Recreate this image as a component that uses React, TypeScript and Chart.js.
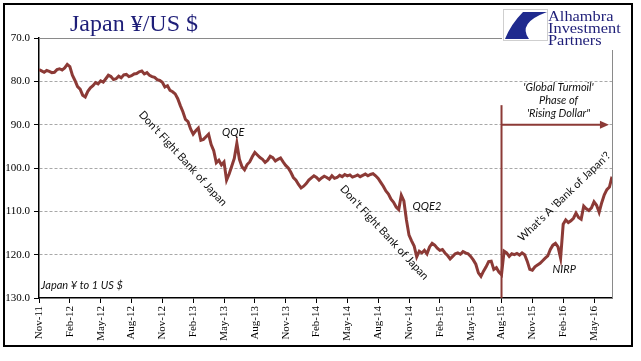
import React, { useEffect, useRef } from "react";
import { Chart, registerables } from "chart.js";

Chart.register(...registerables);

// ---- data ----
const tickLabels = [
  "Nov-11", "Feb-12", "May-12", "Aug-12", "Nov-12", "Feb-13", "May-13", "Aug-13",
  "Nov-13", "Feb-14", "May-14", "Aug-14", "Nov-14", "Feb-15", "May-15", "Aug-15",
  "Nov-15", "Feb-16", "May-16",
];
const yTicks = [70, 80, 90, 100, 110, 120, 130];

// Japan yen per 1 US$, read weekly (quarter-month steps) starting Nov-11
const yenPerUsd = [
  77.3, 77.6, 77.9, 77.5,
  77.7, 78.0, 77.9, 77.3,
  77.1, 77.4, 76.9, 76.1,
  76.6, 78.6, 79.8, 81.2,
  81.8, 83.2, 83.6, 82.3,
  81.5, 81.0, 80.3, 80.6,
  79.9, 80.2, 79.4, 78.6,
  78.9, 79.6, 79.4, 78.8,
  79.2, 78.5, 78.4, 78.9,
  78.7, 78.3, 78.2, 77.8,
  77.6, 78.3, 78.0, 78.6,
  78.9, 79.1, 79.6, 79.8,
  80.2, 81.3, 81.0, 82.1,
  82.4, 82.9, 84.0, 85.6,
  87.0, 88.8, 89.3, 91.0,
  92.2, 91.4, 90.8, 93.6,
  93.4, 92.8, 92.2, 94.6,
  96.0, 98.8, 98.2, 99.3,
  98.6, 102.8, 101.4, 99.6,
  97.8, 94.3, 98.0, 99.7,
  100.4, 99.2, 98.6, 97.4,
  96.4, 97.0, 97.6, 98.0,
  98.7, 98.2, 97.3, 97.6,
  98.4, 98.0, 97.7, 98.6,
  99.4, 100.0, 101.0, 102.2,
  102.8, 103.8, 104.6, 104.2,
  103.6, 102.8, 102.3, 101.8,
  102.2, 102.8, 102.3, 101.9,
  102.2, 102.6, 101.8, 102.4,
  102.2, 101.7, 102.0, 101.5,
  101.8, 101.6, 102.1, 101.9,
  101.6, 102.0, 101.7, 101.4,
  101.8, 101.5, 101.3, 101.8,
  102.4, 103.3, 104.2, 105.3,
  106.0, 107.2, 107.9, 109.0,
  109.6, 106.3, 107.6, 112.0,
  115.5, 116.8, 118.0, 120.5,
  119.2, 119.6, 119.0, 119.8,
  118.2, 117.4, 117.8, 118.5,
  119.0, 118.8, 119.6, 120.2,
  121.0, 120.4, 119.8, 119.6,
  119.9, 119.3, 119.6, 119.8,
  120.4, 121.2, 122.2, 124.2,
  125.0, 123.8, 122.8, 121.6,
  121.5, 123.4, 123.0, 124.0,
  124.6, 119.2, 119.6, 120.4,
  119.8, 120.0, 119.7, 120.1,
  119.6, 120.0, 121.5, 123.4,
  123.6, 122.8, 122.4, 122.0,
  121.4, 120.8, 120.3, 118.8,
  117.8, 117.4, 118.2, 120.8,
  113.0, 112.0, 112.6, 112.2,
  111.6, 110.4, 111.4, 111.8,
  108.8, 109.4, 109.8, 109.2,
  107.8, 108.6, 110.2, 108.0,
  106.2, 105.0, 104.4, 102.0,
];
const STEP_MONTHS = 0.25; // one value per week
const X_MAX = 55.75;

// ---- style ----
const LINE_COLOR = "#8c3a36";
const NAVY = "#1e1e78";
const SERIF = "'Liberation Serif', 'DejaVu Serif', serif";
const SANS = "Lato, 'Open Sans', sans-serif";

type Note = { text: string; m: number; v: number; angle: number; italic: boolean; align?: CanvasTextAlign };
const notes: Note[] = [
  { text: "Don't Fight Bank of Japan", m: 14.0, v: 97.8, angle: 47.5, italic: false },
  { text: "QQE", m: 18.9, v: 91.9, angle: 0, italic: true },
  { text: "Don't Fight Bank of Japan", m: 33.6, v: 114.9, angle: 47.2, italic: false },
  { text: "QQE2", m: 36.35, v: 108.8, angle: 0, italic: true, align: "left" },
  { text: "'Global Turmoil'", m: 50.55, v: 81.5, angle: 0, italic: true },
  { text: "Phase of", m: 50.55, v: 84.3, angle: 0, italic: true },
  { text: "'Rising Dollar\"", m: 50.55, v: 87.5, angle: 0, italic: true },
  { text: "What's A 'Bank of Japan'?", m: 51.1, v: 106.6, angle: -44, italic: false },
  { text: "NIRP", m: 51.1, v: 123.5, angle: 0, italic: true },
  { text: "Japan \u00a5 to 1 US $", m: 0.2, v: 127.2, angle: 0, italic: true, align: "left" },
];

const decorPlugin = {
  id: "decor",
  afterDraw(chart: any) {
    const ctx: CanvasRenderingContext2D = chart.ctx;
    const xs = chart.scales.x;
    const ys = chart.scales.y;
    const area = chart.chartArea;
    ctx.save();

    // outer frame
    ctx.strokeStyle = "#000";
    ctx.lineWidth = 2;
    ctx.strokeRect(4, 4, 628, 342);

    // plot top & right border (gray), interrupted by logo
    ctx.strokeStyle = "#8a8a8a";
    ctx.lineWidth = 1;
    ctx.beginPath();
    ctx.moveTo(area.left, area.top + 0.5);
    ctx.lineTo(502, area.top + 0.5);
    ctx.moveTo(area.right + 0.5, 50);
    ctx.lineTo(area.right + 0.5, area.bottom);
    ctx.stroke();

    // title
    ctx.fillStyle = NAVY;
    ctx.font = `24px ${SERIF}`;
    ctx.textAlign = "left";
    ctx.textBaseline = "alphabetic";
    ctx.fillText("Japan \u00a5/US $", 70, 31);

    // logo icon
    ctx.fillStyle = "#fff";
    ctx.fillRect(503, 9, 45, 32);
    ctx.strokeStyle = "#cfcfcf";
    ctx.lineWidth = 1;
    ctx.strokeRect(503.5, 9.5, 44, 31);
    ctx.fillStyle = "#1f2a8e";
    ctx.beginPath();
    ctx.moveTo(523, 12);
    ctx.lineTo(547, 12);
    ctx.quadraticCurveTo(517, 23, 529, 39);
    ctx.lineTo(505, 39);
    ctx.quadraticCurveTo(511, 24, 523, 12);
    ctx.fill();

    // logo text
    ctx.fillStyle = NAVY;
    ctx.font = `14px ${SERIF}`;
    const logoLines = ["Alhambra", "Investment", "Partners"];
    const base = [21, 33, 45];
    logoLines.forEach((t, i) => {
      ctx.save();
      ctx.translate(548, base[i]);
      ctx.scale(1.17, 1);
      ctx.fillText(t, 0, 0);
      ctx.restore();
    });

    // Aug-15 marker line and arrow
    const xm = xs.getPixelForValue(45);
    ctx.strokeStyle = LINE_COLOR;
    ctx.fillStyle = LINE_COLOR;
    ctx.lineWidth = 2;
    ctx.beginPath();
    ctx.moveTo(xm, ys.getPixelForValue(85.5));
    ctx.lineTo(xm, ys.getPixelForValue(130));
    ctx.stroke();
    const ya = ys.getPixelForValue(90);
    const xe = xs.getPixelForValue(55.45);
    ctx.beginPath();
    ctx.moveTo(xm, ya);
    ctx.lineTo(xe - 6, ya);
    ctx.stroke();
    ctx.beginPath();
    ctx.moveTo(xe, ya);
    ctx.lineTo(xe - 9, ya - 4);
    ctx.lineTo(xe - 9, ya + 4);
    ctx.closePath();
    ctx.fill();

    // annotations
    ctx.fillStyle = "#111";
    ctx.textBaseline = "middle";
    notes.forEach((n) => {
      ctx.font = `${n.italic ? "italic " : ""}11px ${SANS}`;
      ctx.textAlign = n.align || "center";
      ctx.save();
      ctx.translate(xs.getPixelForValue(n.m), ys.getPixelForValue(n.v));
      ctx.rotate((n.angle * Math.PI) / 180);
      ctx.fillText(n.text, 0, 0);
      ctx.restore();
    });

    ctx.restore();
  },
};

export default function App() {
  const ref = useRef<HTMLCanvasElement>(null);
  useEffect(() => {
    if (!ref.current) return;
    const points = yenPerUsd.map((v, i) => ({ x: i * STEP_MONTHS, y: v }));
    const chart = new Chart(ref.current, {
      type: "line",
      data: {
        datasets: [
          {
            data: points,
            borderColor: LINE_COLOR,
            borderWidth: 3,
            pointRadius: 0,
            tension: 0,
            fill: false,
          },
        ],
      },
      options: {
        animation: false,
        responsive: false,
        devicePixelRatio: 1,
        layout: { padding: { left: 0, top: 38, right: 29, bottom: 0 } },
        plugins: { legend: { display: false }, tooltip: { enabled: false } },
        scales: {
          x: {
            type: "linear",
            min: 0,
            max: X_MAX,
            afterBuildTicks: (s: any) => {
              s.ticks = tickLabels.map((_, i) => ({ value: i * 3 }));
            },
            afterFit: (s: any) => {
              s.height = 63;
            },
            ticks: {
              autoSkip: false,
              maxRotation: 90,
              minRotation: 90,
              padding: 3,
              color: "#000",
              font: { family: SERIF, size: 11 },
              callback: (v: any) => tickLabels[Math.round(Number(v) / 3)],
            },
            grid: { drawOnChartArea: false, drawTicks: true, tickLength: 5, tickColor: "#000" },
            border: { display: true, color: "#000", width: 1.5 },
          },
          y: {
            type: "linear",
            reverse: true,
            min: 70,
            max: 130,
            afterBuildTicks: (s: any) => {
              s.ticks = yTicks.map((v) => ({ value: v }));
            },
            afterFit: (s: any) => {
              s.width = 39;
            },
            ticks: {
              padding: 4,
              color: "#000",
              font: { family: SERIF, size: 11 },
              callback: (v: any) => Number(v).toFixed(1),
            },
            grid: {
              color: (c: any) =>
                c.tick && (c.tick.value === 70 || c.tick.value === 130) ? "rgba(0,0,0,0)" : "#a8a8a8",
              lineWidth: 1,
              drawTicks: true,
              tickLength: 5,
              tickColor: "#000",
            },
            border: { display: true, color: "#000", width: 1.5, dash: [3, 2] },
          },
        },
      },
      plugins: [decorPlugin],
    });
    return () => chart.destroy();
  }, []);
  return (
    <div style={{ position: "fixed", left: 0, top: 0, width: 641, height: 361, background: "#fff" }}>
      <canvas ref={ref} width={641} height={361} style={{ width: 641, height: 361, display: "block" }} />
    </div>
  );
}
